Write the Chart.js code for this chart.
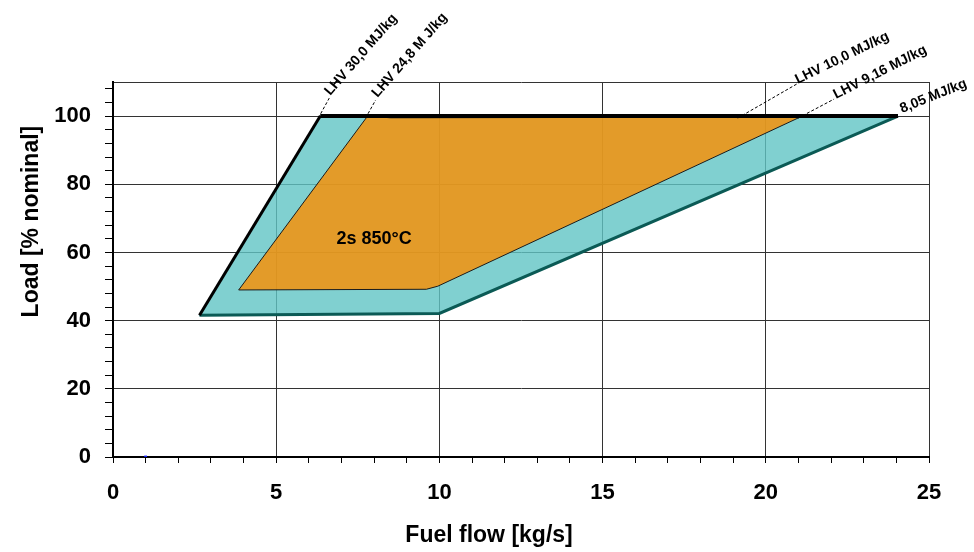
<!DOCTYPE html>
<html>
<head>
<meta charset="utf-8">
<script src="https://cdn.jsdelivr.net/npm/chart.js@4.4.1/dist/chart.umd.min.js"></script>
<style>
  body { margin: 0; background: #fff; }
  #wrap { width: 974px; height: 552px; }
</style>
</head>
<body>
<div id="wrap"><canvas id="chart" width="974" height="552"></canvas></div>
<script>
// outer (teal) operating window
const outerFlow = [2.65, 6.35, 24.05, 10.0, 2.65];
const outerLoad = [41.6, 100, 100, 42.1, 41.6];

// inner (orange) 2s 850°C window
const innerFlow = [3.85, 7.8, 8.5, 21.05, 9.95, 9.6, 3.85];
const innerLoad = [49.0, 100, 99.5, 99.7, 50.1, 49.2, 49.0];

// heavy edges of the outer window
const leftEdgeFlow = [2.65, 6.35];
const leftEdgeLoad = [41.6, 100];
const topEdgeFlow = [6.35, 24.05];
const topEdgeLoad = [100, 100];
const lowEdgeFlow = [2.65, 10.0, 24.05];
const lowEdgeLoad = [41.6, 42.1, 100];

// stray marker near the origin
const markerFlow = [1];
const markerLoad = [0];

// LHV labels and the corner each one points to
const lhvLabels = ['LHV 30,0 MJ/kg', 'LHV 24,8 M J/kg', 'LHV 10,0 MJ/kg', 'LHV 9,16 MJ/kg', '8,05 MJ/kg'];
const lhvFlow = [6.35, 7.8, 19.2, 21.05, 24.05];
const lhvLoad = [100, 100, 100, 100, 100];

const zoneLabel = '2s 850°C';
const zoneFlow = 8.0;
const zoneLoad = 64;

// axis ticks
const xLabelTicks = [0, 5, 10, 15, 20, 25];
const yLabelTicks = [0, 20, 40, 60, 80, 100];

function pts(xs, ys) {
    return xs.map((x, i) => ({ x: x, y: ys[i] }));
}

// leader offsets (px) and text angles for the LHV labels
const labelStyle = [
    { dx: 9, dy: -18, tx: 10, ty: -20, angle: 49, lead: true },
    { dx: 8, dy: -16, tx: 10, ty: -18, angle: 49, lead: true },
    { dx: 57, dy: -32, tx: 58, ty: -32, angle: 26, lead: true },
    { dx: 34, dy: -17, tx: 36, ty: -17, angle: 27, lead: true },
    { dx: 3, dy: -3, tx: 4, ty: -3, angle: 22, lead: false }
];

const labelPlugin = {
    id: 'labels',
    afterDatasetsDraw(chart) {
        const ctx = chart.ctx;
        const xs = chart.scales.x;
        const ys = chart.scales.y;
        ctx.save();
        lhvLabels.forEach((text, i) => {
            const st = labelStyle[i];
            const px = xs.getPixelForValue(lhvFlow[i]);
            const py = ys.getPixelForValue(lhvLoad[i]);
            if (st.lead) {
                ctx.beginPath();
                ctx.setLineDash([3, 2]);
                ctx.lineWidth = 1;
                ctx.strokeStyle = '#000';
                ctx.moveTo(px - 2, py + 2);
                ctx.lineTo(px + st.dx, py + st.dy);
                ctx.stroke();
                ctx.setLineDash([]);
            }
            ctx.save();
            ctx.translate(px + st.tx, py + st.ty);
            ctx.rotate(-st.angle * Math.PI / 180);
            ctx.font = 'bold 14px "Liberation Sans", Arial, sans-serif';
            ctx.fillStyle = '#000';
            ctx.textAlign = 'left';
            ctx.textBaseline = 'alphabetic';
            ctx.fillText(text, 0, 0);
            ctx.restore();
        });
        ctx.font = 'bold 18px "Liberation Sans", Arial, sans-serif';
        ctx.fillStyle = '#000';
        ctx.textAlign = 'center';
        ctx.textBaseline = 'middle';
        ctx.fillText(zoneLabel, xs.getPixelForValue(zoneFlow), ys.getPixelForValue(zoneLoad));
        ctx.restore();
    }
};

const tickFont = { family: '"Liberation Sans", Arial, sans-serif', size: 22, weight: 'bold' };
const titleFont = { family: '"Liberation Sans", Arial, sans-serif', size: 23, weight: 'bold' };

const ctx = document.getElementById('chart').getContext('2d');
const chart = new Chart(ctx, {
    type: 'scatter',
    data: {
        datasets: [
            {
                data: pts(topEdgeFlow, topEdgeLoad),
                showLine: true, pointRadius: 0,
                borderColor: '#000', borderWidth: 4, fill: false
            },
            {
                data: pts(leftEdgeFlow, leftEdgeLoad),
                showLine: true, pointRadius: 0,
                borderColor: '#000', borderWidth: 3, fill: false
            },
            {
                data: pts(lowEdgeFlow, lowEdgeLoad),
                showLine: true, pointRadius: 0,
                borderColor: '#0b5a55', borderWidth: 3, fill: false
            },
            {
                data: pts(markerFlow, markerLoad),
                pointRadius: 2, pointStyle: 'rect',
                backgroundColor: '#1020ff', borderColor: '#1020ff', borderWidth: 0
            },
            {
                data: pts(innerFlow, innerLoad),
                showLine: true, pointRadius: 0,
                borderColor: '#1a1a1a', borderWidth: 1,
                backgroundColor: 'rgba(252,143,0,0.8)', fill: 'shape'
            },
            {
                data: pts(outerFlow, outerLoad),
                showLine: true, pointRadius: 0,
                borderColor: '#0b5a55', borderWidth: 1,
                backgroundColor: 'rgba(96,196,196,0.8)', fill: 'shape'
            }
        ]
    },
    options: {
        responsive: false,
        animation: false,
        layout: { padding: { top: 82, right: 45, left: 0, bottom: 0 } },
        plugins: {
            legend: { display: false },
            tooltip: { enabled: false }
        },
        scales: {
            x: {
                type: 'linear',
                min: 0,
                max: 25,
                afterFit: scale => { scale.height = 95; },
                ticks: {
                    stepSize: 1,
                    autoSkip: false,
                    maxRotation: 0,
                    padding: 17,
                    color: '#000',
                    font: tickFont,
                    callback: v => xLabelTicks.includes(v) ? v : ''
                },
                grid: {
                    color: c => (c.tick && c.tick.value % 5 === 0) ? '#333' : 'rgba(0,0,0,0)',
                    tickColor: '#000',
                    tickLength: 6,
                    lineWidth: 1
                },
                border: { color: '#000', width: 2 },
                title: {
                    display: true,
                    text: 'Fuel flow [kg/s]' + '          ',
                    color: '#000',
                    font: titleFont,
                    padding: { top: 0, bottom: 3 }
                }
            },
            y: {
                type: 'linear',
                min: 0,
                max: 110,
                afterFit: scale => { scale.width = 113; },
                afterBuildTicks: axis => {
                    const t = [];
                    for (let v = 0; v <= 108; v += 4) t.push({ value: v });
                    t.push({ value: 110 });
                    axis.ticks = t;
                },
                ticks: {
                    autoSkip: false,
                    padding: 14,
                    color: '#000',
                    font: tickFont,
                    callback: v => yLabelTicks.includes(v) ? v : ''
                },
                grid: {
                    color: c => (c.tick && (c.tick.value % 20 === 0 || c.tick.value === 110)) ? '#333' : 'rgba(0,0,0,0)',
                    tickColor: c => (c.tick && c.tick.value === 110) ? 'rgba(0,0,0,0)' : '#000',
                    tickLength: 8,
                    lineWidth: 1
                },
                border: { color: '#000', width: 2 },
                title: {
                    display: true,
                    text: '               ' + 'Load [% nominal]',
                    color: '#000',
                    font: titleFont,
                    padding: { top: 18, bottom: 0 }
                }
            }
        }
    },
    plugins: [labelPlugin]
});
</script>
</body>
</html>
